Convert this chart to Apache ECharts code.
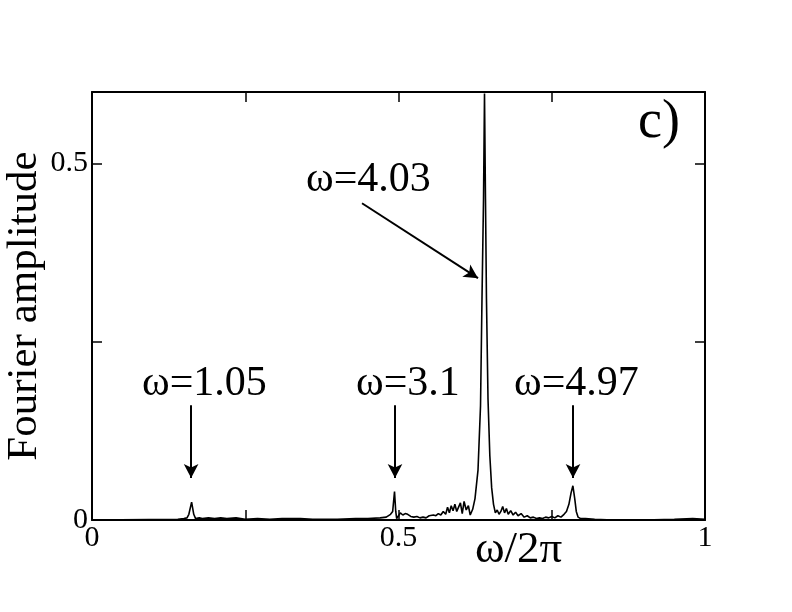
<!DOCTYPE html>
<html>
<head>
<meta charset="utf-8">
<script src="https://cdn.jsdelivr.net/npm/echarts@6/dist/echarts.min.js"></script>
<style>html,body{margin:0;padding:0;background:#fff}#c{width:792px;height:612px}</style>
</head>
<body>
<div id="c"></div>
<script>
// x = omega / 2pi, y = Fourier amplitude
const freq = [0, 0.14, 0.150, 0.155, 0.158, 0.1625, 0.166, 0.169, 0.175, 0.18, 0.19, 0.20, 0.21, 0.22, 0.235, 0.25, 0.27, 0.29, 0.31, 0.34, 0.36, 0.40, 0.43, 0.45, 0.47, 0.48, 0.487, 0.4905, 0.4935, 0.4955, 0.497, 0.500, 0.503, 0.507, 0.511, 0.515, 0.520, 0.525, 0.530, 0.535, 0.540, 0.545, 0.550, 0.553, 0.557, 0.561, 0.565, 0.569, 0.573, 0.577, 0.580, 0.583, 0.586, 0.589, 0.592, 0.595, 0.598, 0.601, 0.604, 0.607, 0.6105, 0.614, 0.617, 0.621, 0.6248, 0.6297, 0.6338, 0.6362, 0.6387, 0.6403, 0.6419, 0.6435, 0.646, 0.649, 0.652, 0.655, 0.658, 0.661, 0.664, 0.667, 0.670, 0.673, 0.676, 0.679, 0.683, 0.687, 0.691, 0.695, 0.700, 0.705, 0.710, 0.715, 0.720, 0.725, 0.730, 0.735, 0.740, 0.745, 0.750, 0.755, 0.760, 0.765, 0.770, 0.774, 0.778, 0.7815, 0.7845, 0.7875, 0.790, 0.793, 0.797, 0.805, 0.82, 0.85, 0.9, 0.95, 0.98, 1.0];
const amplitude = [0, 0.001, 0.002, 0.003, 0.008, 0.025, 0.008, 0.002, 0.003, 0.002, 0.003, 0.002, 0.003, 0.002, 0.003, 0.001, 0.002, 0.001, 0.002, 0.002, 0.001, 0.001, 0.002, 0.002, 0.003, 0.004, 0.008, 0.012, 0.040, 0.012, 0.002, 0.006, 0.010, 0.007, 0.009, 0.008, 0.005, 0.004, 0.005, 0.003, 0.004, 0.003, 0.006, 0.004, 0.007, 0.006, 0.009, 0.007, 0.012, 0.008, 0.018, 0.010, 0.020, 0.013, 0.022, 0.012, 0.018, 0.024, 0.009, 0.026, 0.014, 0.020, 0.007, 0.015, 0.030, 0.070, 0.16, 0.31, 0.45, 0.598, 0.45, 0.31, 0.17, 0.09, 0.045, 0.022, 0.010, 0.014, 0.008, 0.012, 0.019, 0.010, 0.016, 0.008, 0.013, 0.007, 0.011, 0.006, 0.009, 0.004, 0.006, 0.003, 0.004, 0.002, 0.003, 0.002, 0.004, 0.003, 0.005, 0.003, 0.006, 0.004, 0.008, 0.012, 0.022, 0.038, 0.048, 0.030, 0.012, 0.004, 0.002, 0.002, 0.001, 0.000, 0.000, 0.001, 0.002, 0.001];

const xTickLabels = {'0': '0', '0.5': '0.5', '1': '1'};
const yTickLabels = {'0': '0', '0.5': '0.5'};

// annotations: labels, arrow start points, arrow end points (data coordinates)
const annLabels = ['ω=4.03', 'ω=1.05', 'ω=3.1', 'ω=4.97'];
const arrowFrom = [[0.4405, 0.444], [0.1617, 0.161], [0.4943, 0.161], [0.7847, 0.161]];
const arrowTo = [[0.6297, 0.339], [0.1617, 0.059], [0.4943, 0.059], [0.7847, 0.059]];

const FONT = '"Liberation Serif", "DejaVu Serif", serif';
const chart = echarts.init(document.getElementById('c'), null, {renderer: 'canvas'});

const axisCommon = {
  axisLine: {show: true, onZero: false, lineStyle: {color: '#000', width: 2}},
  axisTick: {show: true, inside: true, length: 10, lineStyle: {color: '#000', width: 1.5}},
  splitLine: {show: false}
};

chart.setOption({
  animation: false,
  backgroundColor: '#fff',
  grid: {left: 92, right: 87, top: 92, bottom: 92, containLabel: false, outerBoundsMode: 'none'},
  xAxis: [
    Object.assign({
      type: 'value', min: 0, max: 1, interval: 0.25, position: 'bottom',
      axisLabel: {color: '#000', fontFamily: FONT, fontSize: 30, margin: 3,
        formatter: v => xTickLabels[String(v)] || ''}
    }, axisCommon),
    Object.assign({
      type: 'value', min: 0, max: 1, interval: 0.25, position: 'top',
      axisLabel: {show: false}
    }, axisCommon)
  ],
  yAxis: [
    Object.assign({
      type: 'value', min: 0, max: 0.6, interval: 0.25, position: 'left',
      name: 'Fourier amplitude', nameLocation: 'middle', nameGap: 46, nameMoveOverlap: false,
      nameTextStyle: {color: '#000', fontFamily: FONT, fontSize: 43},
      axisLabel: {color: '#000', fontFamily: FONT, fontSize: 30, margin: 4,
        formatter: v => yTickLabels[String(v)] || ''}
    }, axisCommon),
    Object.assign({
      type: 'value', min: 0, max: 0.6, interval: 0.25, position: 'right',
      axisLabel: {show: false}
    }, axisCommon)
  ],
  series: [{
    type: 'line',
    xAxisIndex: 0, yAxisIndex: 0,
    data: freq.map((f, i) => [f, amplitude[i]]),
    showSymbol: false,
    clip: true,
    lineStyle: {color: '#000', width: 1.6},
    markLine: {
      silent: true,
      symbol: ['none', 'arrow'],
      symbolSize: [11, 14],
      lineStyle: {color: '#000', width: 2, type: 'solid'},
      label: {show: false},
      data: arrowFrom.map((p, i) => [{coord: p}, {coord: arrowTo[i]}])
    }
  }],
  graphic: [
    {type: 'text', left: 638, top: 96, style: {text: 'c)', font: '54px ' + FONT, fill: '#000'}},
    {type: 'text', left: 306, top: 159, style: {text: annLabels[0], font: '42px ' + FONT, fill: '#000'}},
    {type: 'text', left: 142, top: 363, style: {text: annLabels[1], font: '42px ' + FONT, fill: '#000'}},
    {type: 'text', left: 356, top: 363, style: {text: annLabels[2], font: '42px ' + FONT, fill: '#000'}},
    {type: 'text', left: 514, top: 363, style: {text: annLabels[3], font: '42px ' + FONT, fill: '#000'}},
    {type: 'text', left: 475, top: 528, style: {text: 'ω/2π', font: '45px ' + FONT, fill: '#000'}}
  ]
});
</script>
</body>
</html>
